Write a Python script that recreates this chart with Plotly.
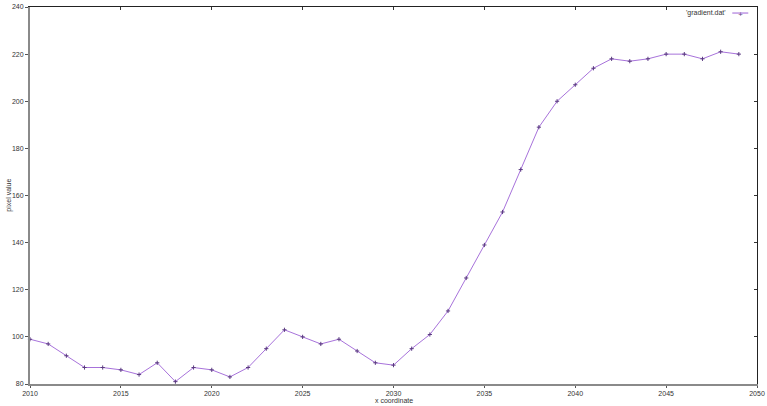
import plotly.graph_objects as go

# x coordinate vs pixel value
x_coord = list(range(2010, 2050))
pixel_value = [99, 97, 92, 87, 87, 86, 84, 89, 81, 87,
               86, 83, 87, 95, 103, 100, 97, 99, 94, 89,
               88, 95, 101, 111, 125, 139, 153, 171, 189, 200,
               207, 214, 218, 217, 218, 220, 220, 218, 221, 220]

x_ticks = list(range(2010, 2051, 5))
y_ticks = list(range(80, 241, 20))

series_name = "'gradient.dat'"
line_color = '#9d62d6'
marker_color = '#5a3a80'
font = dict(family='Liberation Sans', size=7, color='#333333')

fig = go.Figure()

fig.add_trace(go.Scatter(
    x=x_coord,
    y=pixel_value,
    mode='lines+markers',
    line=dict(color=line_color, width=0.9),
    marker=dict(symbol='cross-thin', size=3,
                line=dict(color=marker_color, width=1)),
    showlegend=False,
    cliponaxis=False
))

# invisible trace on the overlay axes so top/right borders render
fig.add_trace(go.Scatter(x=[x_coord[0]], y=[pixel_value[0]], xaxis='x2', yaxis='y2',
                         mode='markers', marker=dict(opacity=0), showlegend=False,
                         hoverinfo='skip'))

fig.update_layout(
    width=767, height=406,
    margin=dict(l=30, r=10, t=7, b=22),
    paper_bgcolor='white',
    plot_bgcolor='white',
    font=font,
    xaxis=dict(
        range=[2010, 2050], tickvals=x_ticks, automargin=False,
        showgrid=False, zeroline=False,
        showline=True, linecolor='#8a8a8a', linewidth=2,
        ticks='outside', ticklen=2, tickcolor='#555555',
    ),
    yaxis=dict(
        range=[80, 240], tickvals=y_ticks, automargin=False,
        showgrid=False, zeroline=False,
        showline=True, linecolor='#8a8a8a', linewidth=2,
        ticks='outside', ticklen=3, tickcolor='#555555',
    ),
    xaxis2=dict(
        overlaying='x', side='top', range=[2010, 2050], tickvals=x_ticks,
        showticklabels=False, showgrid=False, zeroline=False, automargin=False,
        showline=True, linecolor='#222222', linewidth=1,
        ticks='inside', ticklen=3, tickcolor='#333333',
    ),
    yaxis2=dict(
        overlaying='y', side='right', range=[80, 240], tickvals=y_ticks,
        showticklabels=False, showgrid=False, zeroline=False, automargin=False,
        showline=True, linecolor='#222222', linewidth=1,
        ticks='inside', ticklen=3, tickcolor='#333333',
    ),
)

# axis titles placed like gnuplot does
fig.add_annotation(xref='paper', yref='paper', x=0.5, y=-0.045,
                   text='x coordinate', showarrow=False,
                   xanchor='center', yanchor='middle', font=font)
fig.add_annotation(xref='paper', yref='paper', x=-0.03, y=0.5,
                   text='pixel value', showarrow=False, textangle=-90,
                   xanchor='center', yanchor='middle', font=font)

# gnuplot style key in the top right corner
fig.add_annotation(xref='paper', yref='paper', x=0.96, y=0.984,
                   text=series_name, showarrow=False,
                   xanchor='right', yanchor='middle', font=font)
fig.add_shape(type='line', xref='paper', yref='paper',
              x0=0.966, x1=0.988, y0=0.984, y1=0.984,
              line=dict(color=line_color, width=1))
fig.add_annotation(xref='paper', yref='paper', x=0.977, y=0.984,
                   text='+', showarrow=False, xanchor='center', yanchor='middle',
                   font=dict(family='DejaVu Sans', size=6, color=marker_color))

# drop the default page margin so the figure fills the window exactly
fig.write_html("out.html", config={'displayModeBar': False},
               post_script="document.body.style.margin='0';")
